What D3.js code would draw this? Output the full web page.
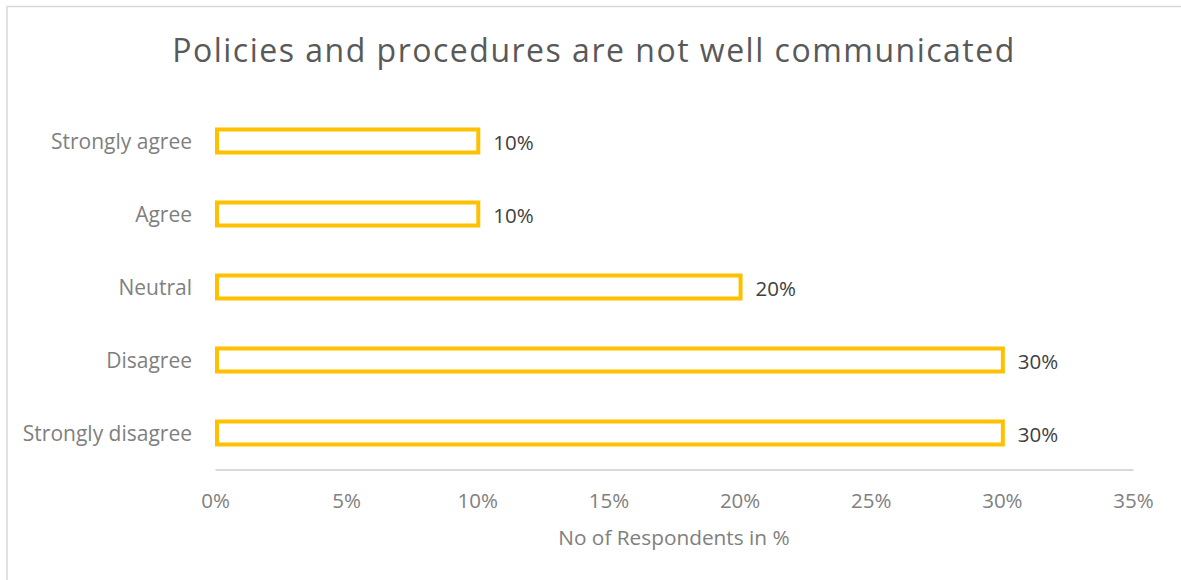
<!DOCTYPE html>
<html>
<head>
<meta charset="utf-8">
<script src="https://cdn.jsdelivr.net/npm/d3@7"></script>
<style>
  html, body { margin: 0; padding: 0; background: #fff; }
  svg { display: block; font-family: "Open Sans", Lato, sans-serif; }
</style>
</head>
<body>
<svg id="chart" width="1181" height="580"></svg>
<script>
// Survey responses, top to bottom as drawn
const categories = ["Strongly agree", "Agree", "Neutral", "Disagree", "Strongly disagree"];
const values = [10, 10, 20, 30, 30];
const tickValues = [0, 5, 10, 15, 20, 25, 30, 35];
const chartTitle = "Policies and procedures are not well communicated";
const axisTitle = "No of Respondents in %";

const svg = d3.select("#chart");
const W = 1181, H = 580;
const plot = { left: 215, right: 1133, top: 104.5, bottom: 469.5 };

// chart frame
svg.append("rect")
  .attr("x", 7).attr("y", 6.5)
  .attr("width", W + 10).attr("height", H + 10)
  .attr("fill", "#fff").attr("stroke", "#d9d9d9").attr("stroke-width", 1.5);

const x = d3.scaleLinear().domain([0, 35]).range([plot.left, plot.right]);
const y = d3.scaleBand().domain(categories).range([plot.top, plot.bottom]).paddingInner(0.63).paddingOuter(0.315);

// title
svg.append("text")
  .attr("x", 594).attr("y", 62)
  .attr("text-anchor", "middle")
  .attr("fill", "#595959")
  .style("font-size", "32px").style("letter-spacing", "1.5px")
  .text(chartTitle);

// horizontal axis
const xAxis = d3.axisBottom(x).tickValues(tickValues).tickFormat(d => d + "%").tickSize(0).tickPadding(0);
const gx = svg.append("g").attr("transform", `translate(0,${plot.bottom})`).call(xAxis);
gx.select(".domain").attr("stroke", "#d9d9d9").attr("stroke-width", 2);
gx.selectAll("text")
  .attr("dy", null).attr("y", 38)
  .attr("fill", "#808080")
  .style("font-size", "20.5px").style("font-family", "'Open Sans', sans-serif");

// category axis labels
const yAxis = d3.axisLeft(y).tickSize(0).tickPadding(0);
const gy = svg.append("g").attr("transform", `translate(${plot.left - 23},0)`).call(yAxis);
gy.select(".domain").remove();
gy.selectAll("text")
  .attr("dy", "0.36em")
  .attr("fill", "#7f7f7f")
  .style("font-size", "21px").style("font-family", "'Open Sans', sans-serif");

// bars (outlined)
const data = categories.map((c, i) => ({ c, v: values[i] }));
svg.append("g").selectAll("rect").data(data).join("rect")
  .attr("x", x(0) + 2)
  .attr("y", d => y(d.c) + 2)
  .attr("width", d => x(d.v) - x(0) - 1)
  .attr("height", y.bandwidth() - 4)
  .attr("fill", "#fff")
  .attr("stroke", "#ffc000")
  .attr("stroke-width", 4);

// value labels
svg.append("g").selectAll("text").data(data).join("text")
  .attr("x", d => x(d.v) + 16)
  .attr("y", d => y(d.c) + y.bandwidth() / 2)
  .attr("dy", "0.45em")
  .attr("fill", "#404040")
  .style("font-size", "20.5px")
  .text(d => d.v + "%");

// axis title
svg.append("text")
  .attr("x", (plot.left + plot.right) / 2).attr("y", 545)
  .attr("text-anchor", "middle")
  .attr("fill", "#808080")
  .style("font-size", "20.8px")
  .text(axisTitle);
</script>
</body>
</html>
